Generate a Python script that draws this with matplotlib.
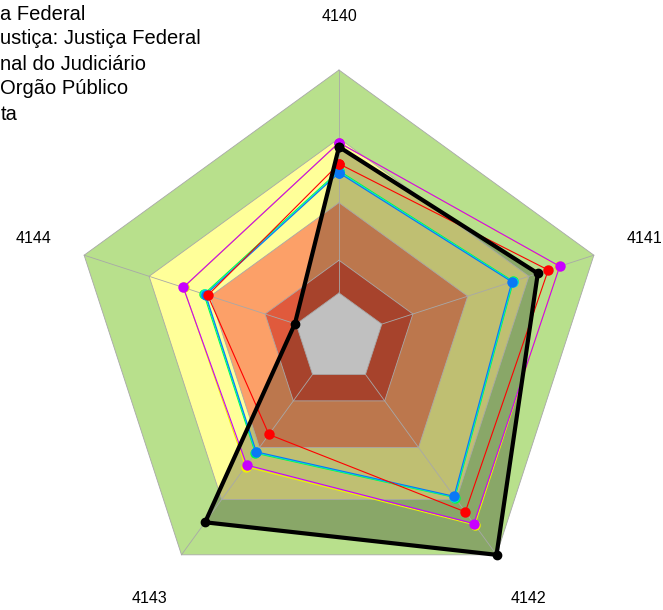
import numpy as np
import matplotlib
matplotlib.use("Agg")
import matplotlib.pyplot as plt

plt.rcParams['font.family'] = ['Liberation Sans', 'DejaVu Sans']

# axes of the radar (clockwise from the top)
categories = ['4140', '4141', '4142', '4143', '4144']

# background bands (outer edge of each band, scale 0-100)
band_edges = [100, 74.5, 50.5, 29, 16.8]
band_colors = ['#b8e08c', '#ffff99', '#fca068', '#e05a3c', '#c0c0c0']

# series values per axis
black_vals  = [71.3, 78.0, 100.0, 85.0, 17.3]
purple_vals = [72.9, 86.6, 85.6, 58.6, 61.1]
yellow_vals = [72.9, 86.4, 86.2, 59.3, 61.0]
red_vals    = [65.0, 82.1, 80.2, 44.5, 51.5]
green_vals  = [62.4, 68.4, 73.6, 53.1, 53.0]
cyan_vals   = [62.0, 68.1, 73.3, 52.8, 52.6]
blue_vals   = [61.6, 67.8, 73.0, 52.5, 52.3]

# legend text as far as it is visible (the legend runs off the left edge)
legend_labels = ['a Federal',
                 'ustiça: Justiça Federal',
                 'nal do Judiciário',
                 'Orgão Público',
                 'ta']

n = len(categories)
theta = np.linspace(0, 2 * np.pi, n, endpoint=False)
theta_c = np.append(theta, theta[0])


def closed(v):
    return np.append(v, v[0])


W, H = 663, 610
fig = plt.figure(figsize=(W / 100, H / 100), dpi=100)
cx, cy, R = 339, 338, 268
ax = fig.add_axes([(cx - R) / W, (H - cy - R) / H, 2 * R / W, 2 * R / H],
                  projection='polar')
ax.set_theta_offset(np.pi / 2)
ax.set_theta_direction(-1)
ax.set_ylim(0, 100)
ax.axis('off')

# bands
for edge, col in zip(band_edges[:-1], band_colors[:-1]):
    ax.fill(theta_c, [edge] * (n + 1), color=col, lw=0, zorder=1)

# black series fill darkens the bands
ax.fill(theta_c, closed(black_vals), color='black', alpha=0.25, lw=0, zorder=2)

# grey centre
ax.fill(theta_c, [band_edges[-1]] * (n + 1), color=band_colors[-1], lw=0, zorder=3)

# grid: band outlines and spokes
for edge in band_edges:
    ax.plot(theta_c, [edge] * (n + 1), color='#a8a8a8', lw=0.6, zorder=4,
            clip_on=False)
for t in theta:
    ax.plot([t, t], [band_edges[-1], 100], color='#a8a8a8', lw=0.6, zorder=4,
            clip_on=False)

# thin series
series = [(green_vals, '#00ff40'), (cyan_vals, '#00e0e0'), (blue_vals, '#0a78f5'),
          (red_vals, '#ff0000'), (yellow_vals, '#f0f000'), (purple_vals, '#c800ff')]
for i, (vals, col) in enumerate(series):
    ax.plot(theta_c, closed(vals), color=col, lw=0.8, marker='o', ms=7.5,
            markeredgewidth=0, zorder=5 + i, clip_on=False)

ax.plot(theta_c, closed(black_vals), color='black', lw=3, marker='o', ms=6,
        zorder=12, clip_on=False)

# axis labels
for t, lab in zip(theta, categories):
    ax.text(t, 120, lab, ha='center', va='center', fontsize=11.5, clip_on=False)

# legend fragments, flush with the left edge
for i, lab in enumerate(legend_labels):
    fig.text(0.5 / W, 1 - (14 + 25 * i) / H, lab, ha='left', va='center',
             fontsize=14.5)

fig.savefig('out.png', dpi=100)
